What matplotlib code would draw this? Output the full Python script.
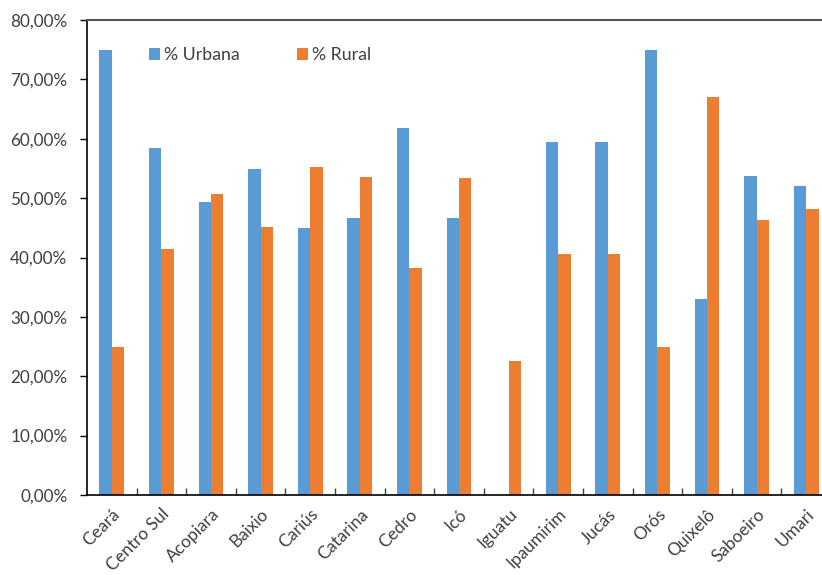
import matplotlib
matplotlib.use("Agg")
import matplotlib.pyplot as plt
import numpy as np
from matplotlib.ticker import FuncFormatter, FixedLocator

plt.rcParams['font.family'] = ['Lato', 'DejaVu Sans']

categories = ["Ceará", "Centro Sul", "Acopiara", "Baixio", "Cariús", "Catarina",
              "Cedro", "Icó", "Iguatu", "Ipaumirim", "Jucás", "Orós", "Quixelô",
              "Saboeiro", "Umari"]
urbana = [75.0, 58.5, 49.3, 54.9, 44.9, 46.6, 61.8, 46.6, 0.0, 59.4, 59.4, 74.9, 33.0, 53.7, 52.0]
rural = [24.9, 41.5, 50.7, 45.1, 55.2, 53.5, 38.2, 53.4, 22.6, 40.6, 40.6, 25.0, 67.1, 46.3, 48.1]

blue = "#5B9BD5"
orange = "#ED7D31"
txt = "#404040"

W, H = 822, 575
fig = plt.figure(figsize=(W / 100, H / 100), dpi=100)
left, right, top, bottom = 87, 831, 20, 495
ax = fig.add_axes([left / W, 1 - bottom / H, (right - left) / W, (bottom - top) / H])

x = np.arange(len(categories))
bw = 0.25
ax.bar(x - bw / 2, urbana, width=bw, color=blue, label="% Urbana")
ax.bar(x + bw / 2, rural, width=bw, color=orange, label="% Rural")

ax.set_xlim(-0.5, len(categories) - 0.5)
ax.set_ylim(0, 80)
ax.set_yticks(np.arange(0, 81, 10))
ax.yaxis.set_major_formatter(FuncFormatter(lambda v, p: f"{v:.2f}".replace(".", ",") + "%"))

ax.set_xticks(x)
ax.set_xticklabels(categories, rotation=45, ha="right", va="top", rotation_mode="anchor")
ax.xaxis.set_minor_locator(FixedLocator(np.arange(0.5, len(categories) - 0.5, 1)))
ax.tick_params(axis="x", which="major", length=0, pad=8, labelsize=12.5, labelcolor=txt)
ax.tick_params(axis="x", which="minor", direction="in", length=5, width=1, color="#404040")
ax.tick_params(axis="y", which="major", direction="out", length=5, width=1, pad=9,
               labelsize=12.3, labelcolor=txt, color="black")

for s in ["left", "bottom"]:
    ax.spines[s].set_color("black")
    ax.spines[s].set_linewidth(1.2)
ax.spines["top"].set_color("#555555")
ax.spines["top"].set_linewidth(1.5)
ax.spines["right"].set_visible(False)

leg = fig.legend(loc="center left", bbox_to_anchor=(149 / W, 1 - 55 / H), ncol=2,
                 frameon=False, fontsize=12.8, handlelength=0.62, handleheight=0.62,
                 handletextpad=0.22, columnspacing=3.2, borderpad=0, borderaxespad=0)
for t in leg.get_texts():
    t.set_color(txt)

fig.savefig("out.png", dpi=100)
